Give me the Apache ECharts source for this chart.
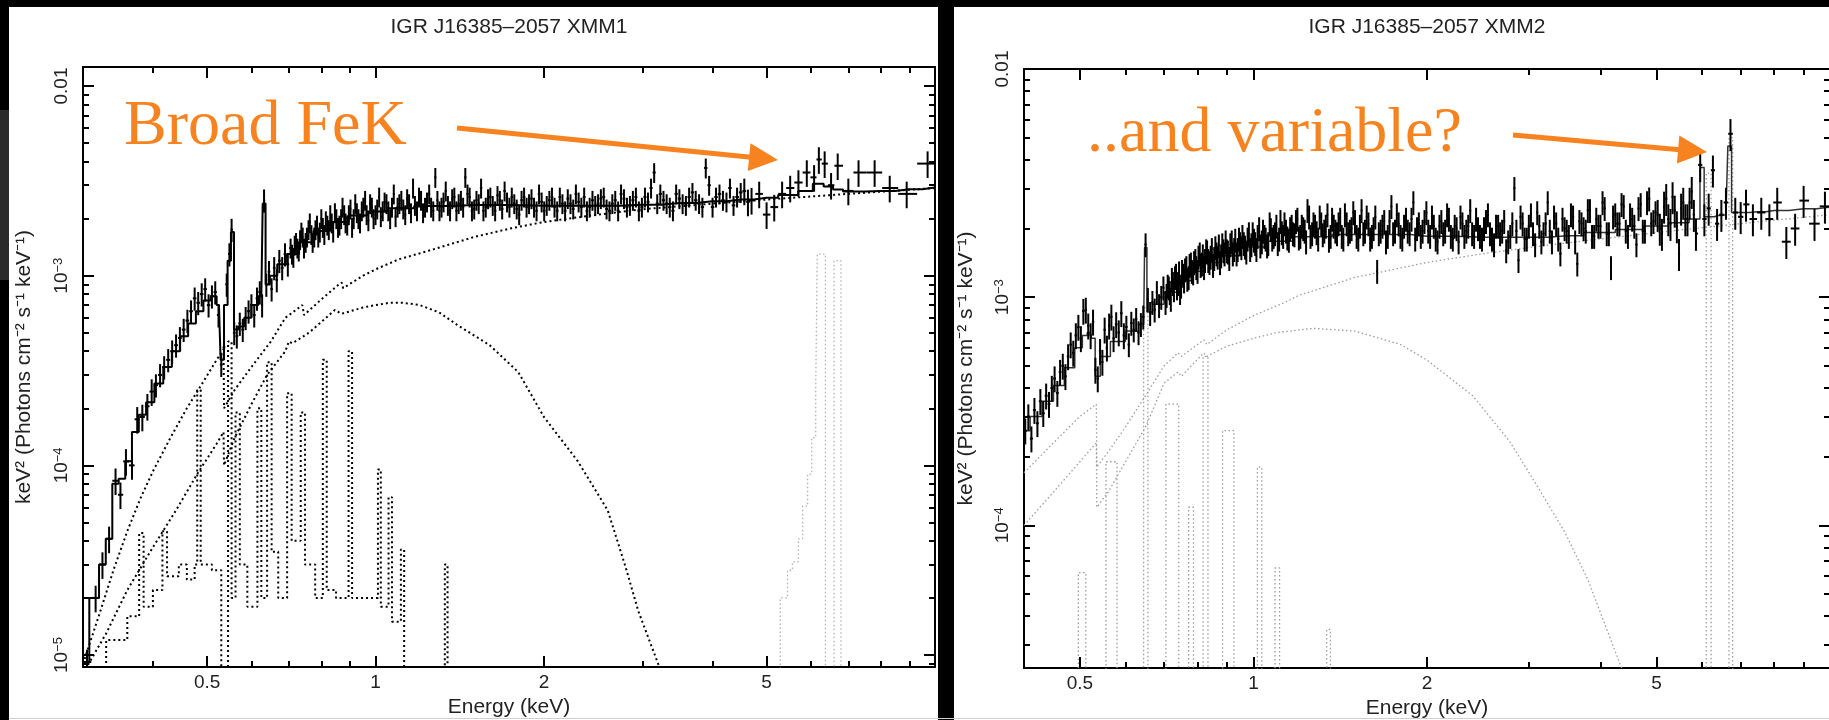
<!DOCTYPE html>
<html><head><meta charset="utf-8">
<script src="https://cdn.jsdelivr.net/npm/echarts@6.0.0/dist/echarts.min.js"></script>
<style>html,body{margin:0;padding:0;background:#000;}#c{width:1829px;height:720px;}</style>
</head><body><div id="c"></div>
<script>
// ---------------- text ----------------
const xmm1Title = 'IGR J16385\u20132057 XMM1';
const xmm2Title = 'IGR J16385\u20132057 XMM2';
const xName = 'Energy (keV)';
const yName = 'keV\u00b2 (Photons cm\u207b\u00b2 s\u207b\u00b9 keV\u207b\u00b9)';
const note1 = 'Broad FeK';
const note2 = '..and variable?';
// ---------------- ticks ----------------
const xTickValues = [0.5, 1, 2, 5];
const xTickLabels = ['0.5', '1', '2', '5'];
const xMinorValues = [0.3, 0.4, 0.6, 0.7, 0.8, 0.9, 3, 4, 6, 7, 8, 9];
const yTickValues = [0.01, 1e-3, 1e-4, 1e-5];
const yTickLabels = ['0.01', '10{s|\u22123}', '10{s|\u22124}', '10{s|\u22125}'];
const yMinorMultipliers = [2, 3, 4, 5, 6, 7, 8, 9];
const yMinorDecades = [1e-6, 1e-5, 1e-4, 1e-3, 1e-2];
// axis ranges [Emin, Emax, Fmin, Fmax]
const xmm1Range = [0.3, 10, 8.65e-6, 0.0126];
const xmm2Range = [0.4, 10, 2.37e-5, 0.01];
// flux values below are in units of 1e-3 photons keV / cm2 / s
const FLUX_UNIT = 1e-3;

// ---------------- XMM1 ----------------
const xmm1Data = [[0.305,0.0092],[0.316,0.020],[0.325,0.030],[0.334,0.041],[0.343,0.083],[0.350,0.070],[0.358,0.105],[0.367,0.100],[0.375,0.175],[0.383,0.180],[0.391,0.205],[0.398,0.245],[0.405,0.265],[0.412,0.300],[0.419,0.330],[0.426,0.360],[0.433,0.400],[0.440,0.430],[0.447,0.470],[0.454,0.520],[0.461,0.580],[0.468,0.650],[0.475,0.760],[0.482,0.720],[0.489,0.800],[0.496,0.850],[0.503,0.700],[0.510,0.780],[0.517,0.820],[0.524,0.620],[0.530,0.340],[0.536,0.420],[0.542,0.900],[0.548,1.300],[0.553,1.750],[0.559,0.500],[0.565,0.480],[0.572,0.560],[0.579,0.520],[0.586,0.600],[0.593,0.650],[0.600,0.700],[0.607,0.620],[0.614,0.760],[0.621,0.820],[0.627,0.700],[0.632,2.500],[0.638,0.900],[0.645,1.050],[0.652,0.850],[0.659,1.100],[0.666,0.950],[0.673,1.200],[0.681,1.100],[0.689,1.300],[0.697,1.150],[0.705,1.400],[0.713,1.250],[0.721,1.500],[0.729,1.350],[0.737,1.700],[0.745,1.400],[0.754,1.600],[0.763,1.900],[0.772,1.500],[0.781,1.750],[0.790,1.600],[0.800,2.000],[0.810,1.650],[0.820,1.850],[0.830,2.100],[0.840,1.700],[0.851,2.000],[0.862,1.850],[0.873,2.300],[0.884,1.900],[0.896,2.100],[0.908,1.800],[0.920,2.400],[0.932,2.000],[0.945,2.200],[0.958,2.500],[0.971,1.950],[0.985,2.300],[1.000,2.100],[1.015,2.600],[1.030,2.200],[1.046,2.400],[1.062,2.000],[1.078,2.700],[1.095,2.300],[1.112,2.500],[1.130,2.100],[1.148,2.400],[1.167,2.900],[1.186,2.200],[1.206,2.500],[1.226,2.300],[1.247,2.700],[1.268,2.200],[1.290,2.500],[1.312,2.300],[1.335,2.800],[1.359,2.200],[1.383,2.600],[1.408,2.400],[1.434,2.300],[1.460,2.700],[1.487,2.200],[1.515,2.500],[1.544,2.900],[1.574,2.300],[1.604,2.600],[1.636,2.200],[1.668,2.500],[1.701,2.800],[1.735,2.300],[1.770,2.400],[1.806,2.100],[1.843,2.600],[1.881,2.400],[1.920,2.300],[1.960,2.700],[2.002,2.200],[2.045,2.500],[2.089,2.300],[2.135,2.600],[2.182,2.200],[2.231,2.400],[2.281,2.700],[2.333,2.300],[2.387,2.200],[2.442,2.500],[2.499,2.400],[2.558,2.600],[2.619,2.200],[2.682,2.500],[2.747,2.700],[2.814,2.300],[2.884,2.500],[2.956,2.200],[3.031,2.600],[3.108,2.900],[3.188,2.400],[3.271,2.500],[3.357,2.300],[3.446,2.700],[3.539,2.400],[3.635,2.600],[3.735,2.500],[3.839,2.300],[3.947,3.000],[4.060,2.600],[4.178,2.500],[4.300,2.900],[4.428,2.600],[4.562,2.800],[4.700,2.500],[4.850,2.700],[5.000,2.100],[5.160,2.300],[5.330,2.700],[5.510,2.900],[5.700,3.100],[5.900,3.500],[6.080,3.300],[6.200,4.100],[6.350,3.900],[6.520,3.000],[6.700,3.800],[7.000,2.800],[7.300,3.500],[7.800,3.500],[8.300,2.900],[8.900,2.700],[9.700,3.900]];
const xmm1DataExtra = [[0.709,1.30],[0.717,1.45],[0.725,1.40],[0.733,1.55],[0.741,1.60],[0.750,1.50],[0.759,1.75],[0.768,1.65],[0.777,1.60],[0.786,1.85],[0.795,1.70],[0.805,1.80],[0.815,1.95],[0.825,1.75],[0.835,1.90],[0.846,2.15],[0.857,1.80],[0.868,2.00],[0.879,2.10],[0.890,1.85],[0.902,2.25],[0.914,2.00],[0.926,2.15],[0.938,1.90],[0.951,2.30],[0.964,2.10],[0.978,2.40],[0.992,2.00],[1.007,2.25],[1.022,2.05],[1.038,2.45],[1.054,2.20],[1.070,2.30],[1.086,2.05],[1.103,2.40],[1.121,2.25],[1.139,2.55],[1.157,2.15],[1.176,2.35],[1.196,2.60],[1.216,2.15],[1.236,2.45],[1.257,2.30],[1.279,3.30],[1.301,2.20],[1.323,2.45],[1.347,2.35],[1.371,2.55],[1.395,2.20],[1.421,2.50],[1.447,3.30],[1.473,2.60],[1.501,2.25],[1.529,2.40],[1.559,2.20],[1.589,2.55],[1.620,2.35],[1.652,2.65],[1.684,2.25],[1.718,2.45],[1.752,2.60],[1.788,2.25],[1.824,2.50],[1.862,2.30],[1.900,2.55],[1.940,2.20],[1.981,2.45],[2.023,2.35],[2.067,2.60],[2.112,2.20],[2.158,2.40],[2.206,2.55],[2.256,2.25],[2.307,2.45],[2.360,2.60],[2.414,2.30],[2.470,2.35],[2.528,2.55],[2.588,2.25],[2.650,2.40],[2.714,2.20],[2.780,2.55],[2.849,2.35],[2.920,2.60],[2.993,2.30],[3.069,2.45],[3.148,3.50],[3.229,2.70],[3.314,2.40],[3.401,2.20],[3.492,2.55],[3.587,2.35],[3.685,2.75],[3.787,2.40],[3.893,3.70],[4.003,2.30],[4.119,2.70],[4.239,2.45],[4.364,2.35],[4.495,2.75],[4.631,2.45]];
// relative 1-sigma errors, by energy band [upper edge keV, fraction]
const xmm1ErrBands = [[0.40,0.16],[0.70,0.14],[4.5,0.12],[20,0.16]];
const xmm1Model = [[0.300,0.0092],[0.316,0.020],[0.325,0.030],[0.334,0.041],[0.343,0.080],[0.352,0.085],[0.362,0.105],[0.372,0.150],[0.383,0.185],[0.395,0.215],[0.410,0.27],[0.425,0.33],[0.440,0.40],[0.455,0.48],[0.470,0.56],[0.485,0.65],[0.500,0.74],[0.515,0.78],[0.525,0.70],[0.532,0.36],[0.540,0.70],[0.548,1.20],[0.555,1.70],[0.562,0.52],[0.575,0.54],[0.590,0.60],[0.610,0.70],[0.625,0.78],[0.632,2.40],[0.640,0.90],[0.655,1.00],[0.680,1.15],[0.710,1.30],[0.750,1.50],[0.800,1.72],[0.860,1.92],[0.930,2.08],[1.0,2.18],[1.1,2.27],[1.25,2.33],[1.5,2.36],[2.0,2.34],[2.5,2.34],[3.0,2.37],[3.5,2.42],[4.0,2.47],[4.5,2.52],[5.0,2.58],[5.5,2.66],[5.9,2.80],[6.2,3.05],[6.45,2.95],[6.7,2.85],[7.0,2.78],[8.0,2.80],[9.0,2.86],[10.0,2.92]];
const xmm1PowerLaw = [[0.30,0.009],[0.32,0.016],[0.34,0.028],[0.36,0.045],[0.38,0.067],[0.40,0.093],[0.43,0.14],[0.46,0.20],[0.49,0.27],[0.52,0.36],[0.535,0.41],[0.536,0.20],[0.56,0.25],[0.60,0.33],[0.65,0.45],[0.69,0.60],[0.74,0.70],[0.745,0.62],[0.80,0.75],[0.86,0.90],[0.87,0.92],[0.875,0.86],[0.95,1.00],[1.0,1.08],[1.1,1.22],[1.23,1.34],[1.5,1.60],[1.75,1.78],[2.0,1.92],[2.5,2.10],[3.0,2.24],[4.0,2.40],[5.0,2.52],[7.0,2.70],[10.0,2.90]];
const xmm1Thermal = [[0.30,0.008],[0.33,0.013],[0.36,0.022],[0.40,0.037],[0.44,0.058],[0.48,0.09],[0.52,0.13],[0.535,0.15],[0.536,0.10],[0.56,0.14],[0.60,0.21],[0.64,0.30],[0.69,0.40],[0.70,0.45],[0.71,0.44],[0.76,0.50],[0.80,0.57],[0.846,0.66],[0.87,0.63],[0.95,0.68],[1.0,0.70],[1.06,0.72],[1.12,0.72],[1.2,0.70],[1.3,0.64],[1.4,0.55],[1.6,0.43],[1.8,0.31],[2.0,0.18],[2.3,0.105],[2.6,0.058],[2.8,0.029],[2.95,0.017],[3.2,0.009],[3.4,0.005]];
const xmm1Lines = [[0.30,0.001],[0.33,0.012],[0.36,0.016],[0.378,0.044],[0.385,0.018],[0.40,0.022],[0.416,0.045],[0.424,0.026],[0.445,0.030],[0.46,0.025],[0.475,0.03],[0.480,0.25],[0.487,0.03],[0.51,0.028],[0.53,0.001],[0.545,0.45],[0.553,0.02],[0.562,0.19],[0.572,0.03],[0.59,0.018],[0.615,0.20],[0.625,0.02],[0.64,0.35],[0.652,0.035],[0.67,0.02],[0.695,0.24],[0.708,0.04],[0.735,0.19],[0.748,0.03],[0.78,0.02],[0.805,0.36],[0.818,0.022],[0.85,0.02],[0.895,0.40],[0.908,0.02],[0.95,0.02],[1.01,0.095],[1.022,0.018],[1.055,0.068],[1.07,0.015],[1.11,0.036],[1.125,0.001],[1.33,0.030],[1.345,0.001],[2.0,0.001]];
const xmm1FeLine = [[5.20,0.001],[5.29,0.020],[5.45,0.028],[5.56,0.031],[5.70,0.041],[5.80,0.061],[5.92,0.090],[6.02,0.14],[6.12,0.25],[6.16,1.30],[6.37,0.001],[6.60,1.20],[6.79,0.001],[7.0,0.001]];

// ---------------- XMM2 ----------------
const xmm2Data = [[0.402,0.26],[0.407,0.30],[0.412,0.24],[0.417,0.32],[0.422,0.28],[0.427,0.35],[0.432,0.31],[0.437,0.37],[0.442,0.34],[0.447,0.40],[0.452,0.44],[0.457,0.38],[0.462,0.47],[0.467,0.50],[0.472,0.45],[0.477,0.55],[0.482,0.62],[0.487,0.57],[0.492,0.68],[0.497,0.74],[0.502,0.66],[0.507,0.87],[0.512,0.88],[0.517,0.75],[0.522,0.68],[0.527,0.78],[0.532,0.48],[0.537,0.44],[0.542,0.58],[0.547,0.52],[0.552,0.72],[0.557,0.60],[0.562,0.75],[0.567,0.82],[0.572,0.66],[0.578,0.76],[0.584,0.70],[0.590,0.85],[0.596,0.68],[0.602,0.74],[0.608,0.62],[0.614,0.77],[0.620,0.72],[0.626,0.80],[0.632,0.70],[0.638,0.76],[0.644,0.82],[0.650,1.70],[0.656,0.98],[0.662,0.85],[0.668,0.95],[0.674,0.88],[0.680,1.05],[0.686,0.92],[0.692,1.00],[0.698,1.10],[0.704,0.95],[0.710,1.12],[0.716,1.05],[0.722,1.20],[0.728,1.08],[0.734,1.25],[0.740,1.15],[0.746,1.05],[0.752,1.30],[0.758,1.18],[0.765,1.35],[0.772,1.22],[0.779,1.40],[0.786,1.28],[0.793,1.45],[0.800,1.30],[0.807,1.55],[0.814,1.40],[0.821,1.35],[0.828,1.60],[0.835,1.45],[0.843,1.50],[0.851,1.38],[0.859,1.65],[0.867,1.50],[0.875,1.42],[0.883,1.70],[0.891,1.55],[0.899,1.60],[0.908,1.48],[0.917,1.75],[0.926,1.62],[0.935,1.55],[0.944,1.80],[0.953,1.65],[0.962,1.72],[0.972,1.58],[0.982,1.90],[0.992,1.70],[1.002,1.78],[1.012,1.62],[1.023,2.00],[1.034,1.75],[1.045,1.85],[1.056,1.68],[1.067,2.10],[1.078,1.80],[1.090,1.90],[1.102,1.72],[1.114,2.15],[1.126,1.85],[1.139,1.95],[1.152,1.78],[1.165,2.05],[1.178,1.88],[1.192,2.20],[1.206,1.85],[1.220,2.00],[1.234,1.75],[1.249,2.25],[1.264,1.90],[1.279,2.05],[1.295,1.80],[1.311,2.10],[1.327,1.95],[1.344,2.30],[1.361,1.85],[1.378,2.05],[1.396,1.90],[1.414,2.20],[1.432,1.80],[1.451,2.10],[1.470,1.95],[1.490,2.35],[1.510,1.85],[1.530,2.05],[1.551,1.90],[1.572,2.25],[1.594,1.80],[1.616,2.00],[1.639,1.30],[1.662,1.95],[1.686,2.15],[1.710,1.85],[1.735,2.50],[1.760,1.95],[1.786,2.10],[1.812,1.80],[1.839,2.20],[1.866,1.90],[1.894,2.60],[1.922,2.00],[1.951,1.85],[1.980,2.15],[2.010,1.95],[2.040,2.25],[2.071,1.80],[2.102,2.05],[2.134,1.90],[2.167,2.30],[2.200,1.85],[2.234,2.05],[2.269,1.75],[2.304,2.10],[2.340,1.95],[2.377,2.40],[2.414,1.85],[2.452,2.00],[2.491,1.80],[2.531,2.15],[2.572,1.90],[2.614,1.70],[2.657,2.05],[2.700,1.95],[2.744,1.60],[2.789,1.85],[2.835,3.00],[2.882,1.45],[2.930,2.10],[2.979,1.80],[3.029,2.30],[3.080,1.70],[3.132,2.05],[3.185,1.90],[3.239,2.60],[3.294,1.75],[3.350,2.10],[3.407,1.55],[3.465,2.00],[3.524,1.85],[3.584,2.25],[3.645,1.40],[3.707,2.10],[3.770,1.95],[3.834,2.40],[3.899,1.85],[3.965,2.05],[4.032,2.60],[4.100,1.90],[4.170,1.35],[4.241,2.30],[4.313,2.10],[4.387,2.50],[4.462,1.85],[4.538,2.20],[4.616,1.70],[4.695,2.55],[4.775,1.95],[4.857,2.70],[4.940,2.15],[5.025,2.30],[5.111,1.90],[5.199,2.70],[5.288,2.10],[5.379,2.40],[5.471,1.55],[5.565,2.60],[5.660,2.20],[5.757,2.90],[5.855,1.90],[5.955,3.80],[6.055,2.20],[6.160,2.45],[6.265,3.60],[6.370,2.10],[6.480,2.30],[6.600,2.60],[6.720,5.20],[6.850,2.35],[7.000,2.25],[7.150,2.55],[7.350,2.20],[7.600,2.35],[7.850,2.20],[8.100,2.60],[8.400,1.75],[8.700,2.00],[9.000,2.65],[9.400,2.10],[9.800,2.50]];
const xmm2DataExtra = [[0.707,1.02],[0.713,1.10],[0.719,0.98],[0.725,1.15],[0.731,1.22],[0.737,1.10],[0.743,1.28],[0.749,1.12],[0.755,1.25],[0.761,1.32],[0.768,1.20],[0.775,1.38],[0.782,1.30],[0.789,1.42],[0.796,1.35],[0.803,1.50],[0.810,1.38],[0.817,1.52],[0.824,1.45],[0.831,1.58],[0.839,1.42],[0.847,1.62],[0.855,1.48],[0.863,1.55],[0.871,1.68],[0.879,1.52],[0.887,1.60],[0.895,1.75],[0.903,1.58],[0.912,1.70],[0.921,1.55],[0.930,1.78],[0.939,1.62],[0.948,1.72],[0.957,1.85],[0.967,1.66],[0.977,1.80],[0.987,1.62],[0.997,1.90],[1.007,1.72],[1.017,1.85],[1.028,1.68],[1.039,1.95],[1.050,1.80],[1.061,1.72],[1.072,1.98],[1.084,1.85],[1.096,2.05],[1.108,1.80],[1.120,1.92],[1.132,2.10],[1.145,1.82],[1.158,2.00],[1.171,1.90],[1.185,2.15],[1.199,1.82],[1.213,2.05],[1.227,1.95],[1.241,2.40],[1.256,1.85],[1.271,2.10],[1.287,1.92],[1.303,2.25],[1.319,1.88],[1.335,2.05],[1.352,1.78],[1.369,2.20],[1.387,1.95],[1.405,2.10],[1.423,1.85],[1.441,2.30],[1.460,1.90],[1.480,2.00],[1.500,2.15],[1.520,1.80],[1.540,2.40],[1.561,1.95],[1.583,2.10],[1.605,1.85],[1.627,2.25],[1.650,1.90],[1.674,2.05],[1.698,1.75],[1.722,2.15],[1.747,1.90],[1.773,2.30],[1.799,1.85],[1.825,2.05],[1.852,1.95],[1.880,2.20],[1.908,1.80],[1.936,2.10],[1.965,1.95],[1.995,2.35],[2.025,1.85],[2.055,2.05],[2.086,1.75],[2.118,2.15],[2.150,1.95],[2.183,2.20],[2.217,1.80],[2.251,2.00],[2.286,2.25],[2.322,1.85],[2.358,2.05],[2.395,1.90],[2.433,2.20],[2.471,1.85],[2.511,2.00],[2.551,2.30],[2.593,1.80],[2.635,2.05],[2.678,1.90],[2.722,2.15],[2.766,1.75],[2.812,2.10],[2.858,1.95],[2.906,2.25],[2.954,1.80],[3.004,2.05],[3.054,1.90],[3.106,2.35],[3.158,1.75],[3.212,2.10],[3.266,1.95],[3.322,2.25],[3.378,1.80],[3.436,2.20],[3.494,1.95],[3.554,2.30],[3.614,1.75],[3.676,2.15],[3.738,2.00],[3.802,2.40],[3.866,1.85],[3.932,2.20],[3.998,2.05],[4.066,2.45],[4.135,1.90],[4.205,2.25],[4.277,2.10],[4.350,2.55],[4.424,1.95],[4.500,2.30],[4.577,2.05],[4.655,2.45],[4.735,1.95],[4.816,2.60],[4.898,2.10],[4.982,2.35],[5.068,2.00],[5.155,2.50],[5.243,2.20],[5.333,2.75],[5.425,2.05],[5.518,2.45],[5.612,2.20],[5.708,2.60],[5.806,2.30]];
const xmm2ErrBands = [[0.60,0.13],[5.0,0.12],[20,0.16]];
const xmm2Model = [[0.40,0.26],[0.42,0.30],[0.44,0.35],[0.46,0.41],[0.48,0.49],[0.50,0.60],[0.51,0.68],[0.52,0.70],[0.528,0.66],[0.535,0.45],[0.55,0.55],[0.58,0.64],[0.62,0.71],[0.645,0.76],[0.650,1.65],[0.657,0.86],[0.68,0.93],[0.72,1.05],[0.76,1.18],[0.80,1.30],[0.85,1.42],[0.90,1.52],[1.0,1.66],[1.1,1.76],[1.25,1.84],[1.5,1.88],[1.75,1.88],[2.0,1.85],[2.5,1.83],[3.0,1.83],[3.5,1.86],[4.0,1.92],[4.5,1.98],[5.0,2.05],[5.5,2.12],[5.9,2.20],[6.0,3.70],[6.1,2.25],[6.2,2.25],[6.4,2.28],[6.6,2.30],[6.7,4.60],[6.8,2.35],[7.0,2.35],[7.5,2.37],[8.0,2.40],[9.0,2.44],[10.0,2.48]];
const xmm2PowerLaw = [[0.40,0.17],[0.45,0.23],[0.50,0.30],[0.534,0.34],[0.535,0.18],[0.56,0.21],[0.60,0.27],[0.65,0.37],[0.70,0.50],[0.74,0.57],[0.75,0.55],[0.82,0.65],[0.83,0.62],[0.90,0.72],[1.0,0.83],[1.136,0.95],[1.2,1.02],[1.5,1.22],[2.0,1.42],[2.5,1.55],[3.0,1.65],[4.0,1.80],[5.0,1.92],[7.0,2.10],[10.0,2.30]];
const xmm2Thermal = [[0.40,0.10],[0.45,0.14],[0.50,0.19],[0.534,0.23],[0.535,0.12],[0.56,0.14],[0.60,0.19],[0.65,0.27],[0.70,0.42],[0.74,0.47],[0.75,0.45],[0.82,0.57],[0.83,0.55],[0.90,0.61],[1.0,0.66],[1.1,0.70],[1.27,0.73],[1.5,0.71],[1.8,0.62],[2.0,0.53],[2.4,0.37],[2.78,0.234],[3.1,0.15],[3.47,0.093],[3.8,0.058],[4.1,0.035],[4.4,0.022]];
const xmm2Lines = [[0.40,0.001],[0.497,0.062],[0.512,0.001],[0.555,0.19],[0.58,0.001],[0.645,0.90],[0.656,0.001],[0.705,0.34],[0.742,0.001],[0.772,0.12],[0.787,0.001],[0.818,0.55],[0.834,0.001],[0.884,0.26],[0.925,0.001],[1.016,0.18],[1.034,0.001],[1.09,0.065],[1.11,0.001],[1.34,0.035],[1.36,0.001],[6.10,3.5],[6.22,0.001],[6.68,5.0],[6.78,0.001],[10.0,0.001]];

// ---------------- build ----------------
const L = Math.log10;
const FONT = '"Liberation Sans", Arial, Helvetica, sans-serif';
const SERIF = '"Liberation Serif", "Times New Roman", serif';

function toLog(pairs) { return pairs.map(p => [L(p[0]), L(p[1] * FLUX_UNIT)]); }
function errFrac(bands, e) { for (const b of bands) if (e < b[0]) return b[1]; return bands[bands.length - 1][1]; }
function errorData(pairsIn, bands) {
  const pairs = pairsIn.slice().sort((a, b) => a[0] - b[0]);
  return pairs.map((p, i) => {
    const le = L(p[0]);
    const prev = i > 0 ? L(pairs[i - 1][0]) : 2 * le - L(pairs[i + 1][0]);
    const next = i < pairs.length - 1 ? L(pairs[i + 1][0]) : 2 * le - prev;
    const f = errFrac(bands, p[0]);
    const v = p[1] * FLUX_UNIT;
    return [le, L(v), (le + prev) / 2, (le + next) / 2, L(v * (1 - f)), L(v * (1 + f))];
  });
}
function minorY(r) {
  const out = [];
  yMinorDecades.forEach(d => yMinorMultipliers.forEach(m => { const v = d * m; if (v >= r[2] && v <= r[3]) out.push(L(v)); }));
  return out;
}
function fmt(values, labels) {
  return v => { for (let i = 0; i < values.length; i++) if (Math.abs(L(values[i]) - v) < 1e-6) return labels[i]; return ''; };
}
const tickStyle = { color: '#000', width: 2 };
function xAxes(grid, r) {
  const base = { type: 'value', gridIndex: grid, min: L(r[0]), max: L(r[1]), splitLine: { show: false } };
  const mk = (pos, major, labels) => Object.assign({}, base, {
    position: pos,
    axisLine: { show: major, onZero: false, lineStyle: { color: '#000', width: 2 } },
    axisTick: { show: true, inside: true, length: major ? 11 : 6, lineStyle: tickStyle,
      customValues: (major ? xTickValues : xMinorValues).map(L) },
    axisLabel: { show: labels, customValues: xTickValues.map(L), formatter: fmt(xTickValues, xTickLabels),
      margin: 6, fontFamily: FONT, fontSize: 19, color: '#222' },
    name: labels ? xName : '', nameLocation: 'middle', nameGap: 30,
    nameTextStyle: { fontFamily: FONT, fontSize: 21, color: '#222' }
  });
  return [mk('bottom', true, true), mk('bottom', false, false), mk('top', true, false), mk('top', false, false)];
}
function yAxes(grid, r, nameGap) {
  const base = { type: 'value', gridIndex: grid, min: L(r[2]), max: L(r[3]), splitLine: { show: false } };
  const mk = (pos, major, labels) => Object.assign({}, base, {
    position: pos,
    axisLine: { show: major, onZero: false, lineStyle: { color: '#000', width: 2 } },
    axisTick: { show: true, inside: true, length: major ? 11 : 6, lineStyle: tickStyle,
      customValues: major ? yTickValues.map(L) : minorY(r) },
    axisLabel: { show: labels, customValues: yTickValues.map(L), formatter: fmt(yTickValues, yTickLabels),
      rotate: 90, margin: 12, fontFamily: FONT, fontSize: 19, color: '#222',
      rich: { s: { fontFamily: FONT, fontSize: 13, color: '#222', verticalAlign: 'top', lineHeight: 19 } } },
    name: labels ? yName : '', nameLocation: 'middle', nameGap: nameGap,
    nameTextStyle: { fontFamily: FONT, fontSize: 21, color: '#222' }
  });
  return [mk('left', true, true), mk('left', false, false), mk('right', true, false), mk('right', false, false)];
}
function lineSeries(xi, data, style, step) {
  return { type: 'line', xAxisIndex: xi, yAxisIndex: xi, data: toLog(data), step: step || false,
    showSymbol: false, symbol: 'none', silent: true, clip: true, lineStyle: style, z: 2 };
}
function errSeries(xi, pairs, bands, w) {
  return { type: 'custom', xAxisIndex: xi, yAxisIndex: xi, data: errorData(pairs, bands), clip: true, silent: true, z: 4,
    encode: { x: 0, y: 1 },
    renderItem: (params, api) => {
      const y = api.value(1), x = api.value(0);
      const a = api.coord([api.value(2), y]), b = api.coord([api.value(3), y]);
      const c = api.coord([x, api.value(4)]), d = api.coord([x, api.value(5)]);
      return { type: 'group', children: [
        { type: 'line', shape: { x1: a[0], y1: a[1], x2: b[0], y2: b[1] }, style: { stroke: '#000', lineWidth: w } },
        { type: 'line', shape: { x1: c[0], y1: c[1], x2: d[0], y2: d[1] }, style: { stroke: '#000', lineWidth: w } }
      ] };
    } };
}
function arrow(x1, y1, x2, y2, color) {
  const dx = x2 - x1, dy = y2 - y1, len = Math.hypot(dx, dy), ux = dx / len, uy = dy / len;
  const hl = 29, hw = 14;
  const bx = x2 - ux * hl, by = y2 - uy * hl;
  return [
    { type: 'line', z: 100, shape: { x1: x1, y1: y1, x2: bx + ux * 2, y2: by + uy * 2 }, style: { stroke: color, lineWidth: 5 } },
    { type: 'polygon', z: 100, shape: { points: [[x2, y2], [bx - uy * hw, by + ux * hw], [bx + uy * hw, by - ux * hw]] }, style: { fill: color } }
  ];
}
const ORANGE = '#F6831F';
const dotBlack = { color: '#000', width: 2, type: [2, 3] };
const dotGray = { color: '#9c9c9c', width: 1.3, type: [1.5, 2.5] };

const chart = echarts.init(document.getElementById('c'), null, { renderer: 'canvas' });
chart.setOption({
  animation: false,
  backgroundColor: '#000',
  grid: [
    { left: 83, top: 67, width: 852, height: 600, outerBoundsMode: 'none' },
    { left: 1024, top: 69, width: 806, height: 599, outerBoundsMode: 'none' }
  ],
  xAxis: xAxes(0, xmm1Range).concat(xAxes(1, xmm2Range)),
  yAxis: yAxes(0, xmm1Range, 48).concat(yAxes(1, xmm2Range, 47)),
  series: [
    lineSeries(0, xmm1Lines, dotBlack, 'end'),
    lineSeries(0, xmm1PowerLaw, dotBlack),
    lineSeries(0, xmm1Thermal, dotBlack),
    lineSeries(0, xmm1FeLine, { color: '#b0b0b0', width: 1.3, type: [1.5, 2.5] }, 'end'),
    lineSeries(0, xmm1Model, { color: '#000', width: 2 }, 'middle'),
    errSeries(0, xmm1Data.concat(xmm1DataExtra), xmm1ErrBands, 2),
    lineSeries(4, xmm2Lines, dotGray, 'end'),
    lineSeries(4, xmm2PowerLaw, dotGray),
    lineSeries(4, xmm2Thermal, dotGray),
    lineSeries(4, xmm2Model, { color: '#333', width: 1.5 }, 'middle'),
    errSeries(4, xmm2Data.concat(xmm2DataExtra), xmm2ErrBands, 2)
  ],
  graphic: [
    { type: 'rect', z: -100, shape: { x: 9, y: 7, width: 929, height: 713 }, style: { fill: '#fff' } },
    { type: 'rect', z: -100, shape: { x: 954, y: 7, width: 875, height: 713 }, style: { fill: '#fff' } },
    { type: 'rect', z: -100, shape: { x: 0, y: 110, width: 9, height: 170 }, style: { fill: '#2a2a2a' } },
    { type: 'line', z: -90, shape: { x1: 9, y1: 718.5, x2: 1829, y2: 718.5 }, style: { stroke: '#cfcfcf', lineWidth: 1 } },
    { type: 'text', z: 100, x: 509, y: 27, style: { text: xmm1Title, fontFamily: FONT, fontSize: 21, fill: '#222', align: 'center', verticalAlign: 'middle' } },
    { type: 'text', z: 100, x: 1427, y: 27, style: { text: xmm2Title, fontFamily: FONT, fontSize: 21, fill: '#222', align: 'center', verticalAlign: 'middle' } },
    { type: 'text', z: 100, x: 124, y: 127, style: { text: note1, fontFamily: SERIF, fontSize: 64, fill: ORANGE, align: 'left', verticalAlign: 'middle' } },
    { type: 'text', z: 100, x: 1087, y: 134, style: { text: note2, fontFamily: SERIF, fontSize: 64, fill: ORANGE, align: 'left', verticalAlign: 'middle' } }
  ].concat(arrow(457, 128, 778, 160, ORANGE)).concat(arrow(1513, 135, 1707, 152, ORANGE))
});
</script></body></html>
